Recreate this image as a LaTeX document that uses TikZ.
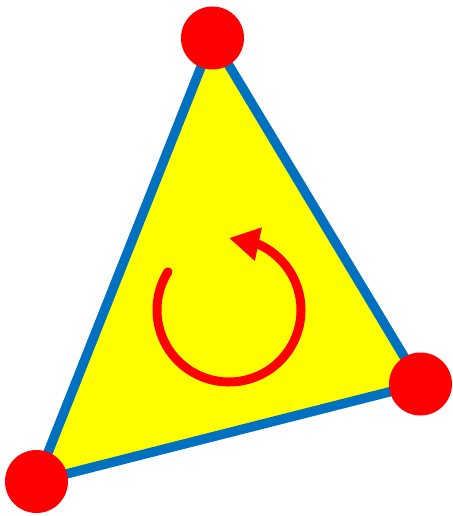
\documentclass[tikz,border=0pt]{standalone}
\usetikzlibrary{arrows.meta,bending}
\definecolor{edgeblue}{HTML}{0070C0}
\definecolor{fillyellow}{HTML}{FFFF00}
\definecolor{dotred}{HTML}{FF0000}
\begin{document}
\begin{tikzpicture}[x=1pt,y=-1pt,
  vertexdot/.style={circle,fill=dotred,minimum size=63pt,inner sep=0pt},
  edgeline/.style={draw=edgeblue,line width=9.5pt,line join=miter},
  turnarrow/.style={draw=dotred,line width=9pt,line cap=round,-{Triangle[length=30pt,width=32pt,flex]}}]
\useasboundingbox (0,0) rectangle (452,516);
\coordinate (A) at (212.5,38);
\coordinate (B) at (420.5,384);
\coordinate (C) at (36.5,481.5);
\filldraw[edgeline,fill=fillyellow] (A) -- (B) -- (C) -- cycle;
\node[vertexdot] (a) at (A) {};
\node[vertexdot] (b) at (B) {};
\node[vertexdot] (c) at (C) {};
\coordinate (ctr) at (229,310);
\draw[turnarrow] ([shift={(-148:72)}]ctr) arc[start angle=-148,end angle=-450,radius=72];
\end{tikzpicture}
\end{document}
